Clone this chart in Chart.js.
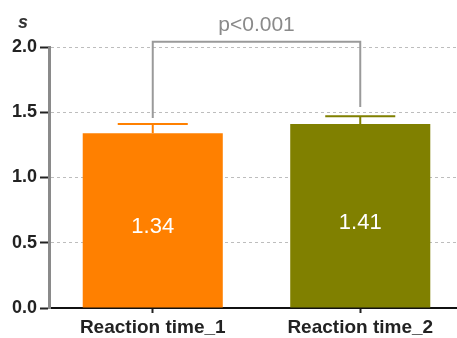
<!DOCTYPE html>
<html>
<head>
<meta charset="utf-8">
<script src="https://cdn.jsdelivr.net/npm/chart.js@4/dist/chart.umd.min.js"></script>
<style>
html,body{margin:0;padding:0;background:#fff;overflow:hidden;}
#wrap{width:464px;height:338px;position:relative;}
</style>
</head>
<body>
<div id="wrap"><canvas id="c" width="464" height="338"></canvas></div>
<script>
// ---- data ----
const categories = ['Reaction time_1', 'Reaction time_2'];
const meanValues = [1.34, 1.41];
const errorUpper = [0.07, 0.06];
const valueLabels = ['1.34', '1.41'];
const barColors = ['#FF8000', '#808000'];
const yTicks = [0.0, 0.5, 1.0, 1.5, 2.0];
const bracketLegEnds = [1.455, 1.54];
const bracketTop = 2.04;
const pText = 'p<0.001';
const yUnit = 's';

const FONT = '"Liberation Sans", Arial, Helvetica, sans-serif';

const overlay = {
  id: 'overlay',
  afterDatasetsDraw(chart) {
    const {ctx, scales: {x, y}} = chart;
    const meta = chart.getDatasetMeta(0);
    ctx.save();
    // error bars
    meta.data.forEach((bar, i) => {
      const top = y.getPixelForValue(meanValues[i] + errorUpper[i]);
      const half = bar.width / 4;
      ctx.strokeStyle = barColors[i];
      ctx.lineWidth = 2;
      ctx.beginPath();
      ctx.moveTo(bar.x, bar.y);
      ctx.lineTo(bar.x, top);
      ctx.moveTo(bar.x - half, top);
      ctx.lineTo(bar.x + half, top);
      ctx.stroke();
      // value labels
      ctx.fillStyle = '#ffffff';
      ctx.font = '22px ' + FONT;
      ctx.textAlign = 'center';
      ctx.textBaseline = 'middle';
      ctx.fillText(valueLabels[i], bar.x, (bar.y + bar.base) / 2 + 7);
    });
    // significance bracket
    const x1 = meta.data[0].x, x2 = meta.data[1].x;
    const yt = y.getPixelForValue(bracketTop);
    ctx.strokeStyle = '#9a9a9a';
    ctx.lineWidth = 2;
    ctx.beginPath();
    ctx.moveTo(x1, y.getPixelForValue(bracketLegEnds[0]));
    ctx.lineTo(x1, yt);
    ctx.lineTo(x2, yt);
    ctx.lineTo(x2, y.getPixelForValue(bracketLegEnds[1]));
    ctx.stroke();
    ctx.fillStyle = '#8a8a8a';
    ctx.font = '21px ' + FONT;
    ctx.textAlign = 'center';
    ctx.textBaseline = 'alphabetic';
    ctx.fillText(pText, (x1 + x2) / 2, yt - 11);
    // unit label
    ctx.fillStyle = '#333';
    ctx.font = 'italic bold 18px ' + FONT;
    ctx.fillText(yUnit, 23, 28);
    ctx.restore();
  }
};

new Chart(document.getElementById('c'), {
  type: 'bar',
  data: {
    labels: categories,
    datasets: [{
      data: meanValues,
      backgroundColor: barColors,
      borderWidth: 0,
      categoryPercentage: 1,
      barPercentage: 0.675
    }]
  },
  options: {
    responsive: false,
    animation: false,
    layout: {padding: {top: 47, left: 0, right: 0, bottom: 0}},
    plugins: {legend: {display: false}, tooltip: {enabled: false}},
    scales: {
      x: {
        grid: {display: true, drawOnChartArea: false, drawTicks: true, offset: false,
               tickLength: 5, tickColor: '#222', tickWidth: 2},
        border: {display: true, color: '#111', width: 2},
        ticks: {color: '#222', padding: 3, font: {family: FONT, size: 19, weight: 'bold'}},
        afterFit(s) { s.height = 30; }
      },
      y: {
        min: 0, max: 2,
        afterBuildTicks(s) { s.ticks = yTicks.map(v => ({value: v})); },
        grid: {color: '#bdbdbd', lineWidth: 1, tickLength: 9, tickColor: '#222', tickWidth: 2},
        border: {display: true, color: '#8a8a8a', width: 3, dash: [3, 3]},
        ticks: {color: '#222', padding: 3,
                font: {family: FONT, size: 18, weight: 'bold'},
                callback: v => Number(v).toFixed(1)},
        afterFit(s) { s.width = 49; }
      }
    }
  },
  plugins: [overlay]
});
</script>
</body>
</html>
